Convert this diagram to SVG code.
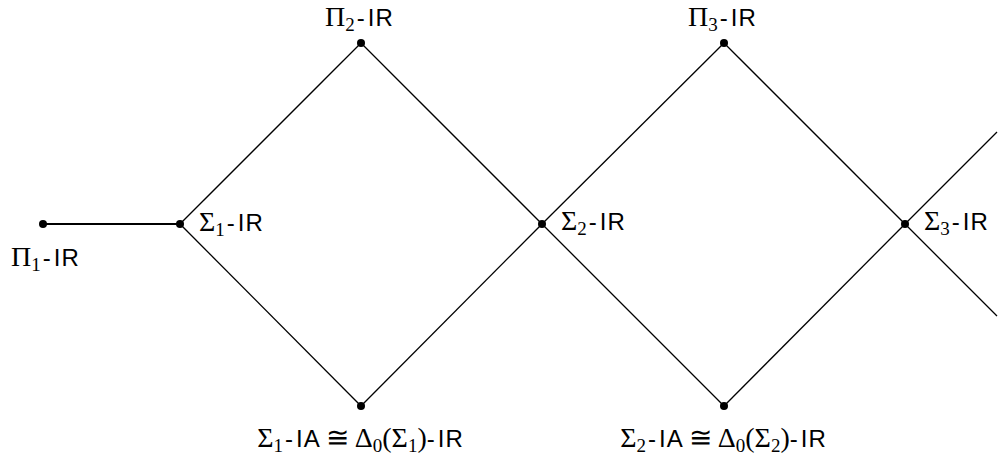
<svg xmlns="http://www.w3.org/2000/svg" width="1003" height="455" viewBox="0 0 1003 455">
<style>
.e{stroke:#000;stroke-width:1.3;fill:none}
.d{fill:#000}
text{font-size:28px;fill:#000;font-family:"Liberation Serif",serif}
.s{font-family:"Liberation Sans",sans-serif;font-size:24px}
.b{font-size:19px}
</style>
<rect width="1003" height="455" fill="#fff"/>
<g id="connectors">
<line class="e" x1="43" y1="224" x2="180" y2="224" style="stroke-width:2"/>
<line class="e" x1="180" y1="224" x2="361" y2="43"/>
<line class="e" x1="180" y1="224" x2="361" y2="406"/>
<line class="e" x1="361" y1="43" x2="542" y2="224"/>
<line class="e" x1="361" y1="406" x2="542" y2="224"/>
<line class="e" x1="542" y1="224" x2="724" y2="43"/>
<line class="e" x1="542" y1="224" x2="724" y2="406"/>
<line class="e" x1="724" y1="43" x2="905" y2="224"/>
<line class="e" x1="724" y1="406" x2="905" y2="224"/>
<line class="e" x1="905" y1="224" x2="997" y2="132"/>
<line class="e" x1="905" y1="224" x2="997" y2="316"/>
</g>
<g id="pi1"><circle class="d" cx="43" cy="224" r="4"/><text x="11" y="266">Π<tspan class="b" dy="5">1</tspan><tspan class="s" dy="-5" dx="2">-</tspan><tspan class="s" dx="3">I</tspan><tspan class="s" dx="1">R</tspan></text></g>
<g id="sigma1"><circle class="d" cx="180" cy="224" r="4"/><text x="199" y="231">Σ<tspan class="b" dy="5">1</tspan><tspan class="s" dy="-5" dx="2">-</tspan><tspan class="s" dx="3">I</tspan><tspan class="s" dx="1">R</tspan></text></g>
<g id="pi2"><circle class="d" cx="361" cy="43" r="4"/><text x="325" y="26">Π<tspan class="b" dy="5">2</tspan><tspan class="s" dy="-5" dx="2">-</tspan><tspan class="s" dx="3">I</tspan><tspan class="s" dx="1">R</tspan></text></g>
<g id="sigma2"><circle class="d" cx="542" cy="224" r="4"/><text x="561" y="230">Σ<tspan class="b" dy="5">2</tspan><tspan class="s" dy="-5" dx="2">-</tspan><tspan class="s" dx="3">I</tspan><tspan class="s" dx="1">R</tspan></text></g>
<g id="pi3"><circle class="d" cx="724" cy="43" r="4"/><text x="688" y="26">Π<tspan class="b" dy="5">3</tspan><tspan class="s" dy="-5" dx="2">-</tspan><tspan class="s" dx="3">I</tspan><tspan class="s" dx="1">R</tspan></text></g>
<g id="sigma3"><circle class="d" cx="905" cy="224" r="4"/><text x="924" y="230">Σ<tspan class="b" dy="5">3</tspan><tspan class="s" dy="-5" dx="2">-</tspan><tspan class="s" dx="3">I</tspan><tspan class="s" dx="1">R</tspan></text></g>
<g id="delta1"><circle class="d" cx="361" cy="406" r="4"/><text x="360" y="447" text-anchor="middle">Σ<tspan class="b" dy="5">1</tspan><tspan class="s" dy="-5" dx="2">-</tspan><tspan class="s" dx="3">I</tspan><tspan class="s" dx="1">A</tspan><tspan dx="6">≅</tspan><tspan dx="6">Δ</tspan><tspan class="b" dy="5">0</tspan><tspan dy="-5">(Σ</tspan><tspan class="b" dy="5">1</tspan><tspan dy="-5">)</tspan><tspan class="s">-</tspan><tspan class="s" dx="3">I</tspan><tspan class="s" dx="1">R</tspan></text></g>
<g id="delta2"><circle class="d" cx="724" cy="406" r="4"/><text x="723" y="447" text-anchor="middle">Σ<tspan class="b" dy="5">2</tspan><tspan class="s" dy="-5" dx="2">-</tspan><tspan class="s" dx="3">I</tspan><tspan class="s" dx="1">A</tspan><tspan dx="6">≅</tspan><tspan dx="6">Δ</tspan><tspan class="b" dy="5">0</tspan><tspan dy="-5">(Σ</tspan><tspan class="b" dy="5">2</tspan><tspan dy="-5">)</tspan><tspan class="s">-</tspan><tspan class="s" dx="3">I</tspan><tspan class="s" dx="1">R</tspan></text></g>
</svg>
